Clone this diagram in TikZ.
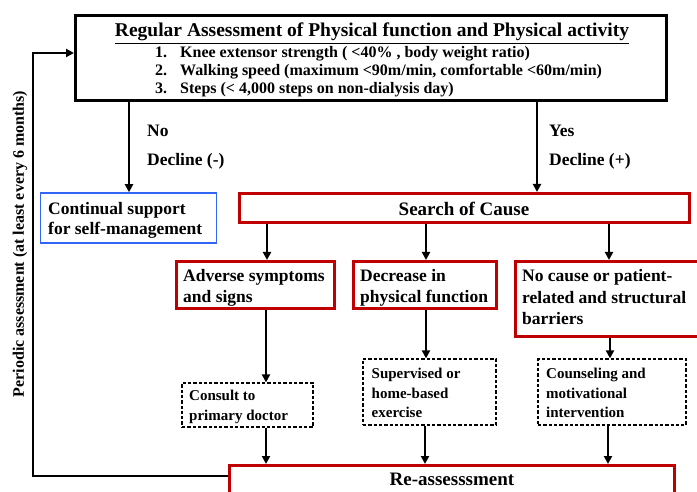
\documentclass[tikz,border=0pt]{standalone}
\usepackage{fontspec}
\setmainfont{Liberation Serif}
\usetikzlibrary{arrows.meta}
\definecolor{boxred}{RGB}{192,0,0}
\definecolor{boxblue}{RGB}{50,100,245}
\tikzset{
  redbox/.style={draw=boxred, line width=3pt, inner sep=0pt},
  bluebox/.style={draw=boxblue, line width=1.5pt, inner sep=0pt},
  blackbox/.style={draw=black, line width=3pt, inner sep=0pt},
  dashbox/.style={draw=black, line width=1.2pt, dash pattern=on 3.3pt off 2pt, inner sep=0pt},
  txt/.style={font=\bfseries\fontsize{17.5}{21}\selectfont, align=left, anchor=base west, inner sep=0pt},
  stxt/.style={font=\bfseries\fontsize{15}{19.8}\selectfont, align=left, anchor=base west, inner sep=0pt},
  big/.style={font=\bfseries\fontsize{19}{22}\selectfont, anchor=base, inner sep=0pt},
  arr/.style={line width=2pt, -{Triangle[length=8pt,width=8pt]}},
  lbl/.style={font=\bfseries\fontsize{17.5}{20}\selectfont, anchor=base west, inner sep=0pt}
}
\begin{document}
\begin{tikzpicture}[x=1pt,y=-1pt]
\useasboundingbox (0,0) rectangle (697,492);
% boxes (multi-line texts are placed by the baseline of their last line)
\node[blackbox, minimum width=591pt, minimum height=85pt] (top) at (371,58) {};
\node[font=\bfseries\fontsize{19.5}{22}\selectfont, inner sep=0pt, anchor=base] (title) at (372,37) {\underline{Regular Assessment of Physical function and Physical activity}};
\node[font=\bfseries\fontsize{16}{18}\selectfont, align=left, anchor=base west, inner sep=0pt] (items) at (155,94) {%
1.\hspace{13pt}Knee extensor strength ( <40\% , body weight ratio)\\
2.\hspace{13pt}Walking speed (maximum <90m/min, comfortable <60m/min)\\
3.\hspace{13pt}Steps (< 4,000 steps on non-dialysis day)};
\node[bluebox, minimum width=176pt, minimum height=50pt] (cont) at (128.5,218) {};
\node[txt, font=\bfseries\fontsize{17.5}{20}\selectfont] (conttxt) at (48,234.5) {Continual support\\for self-management};
\node[redbox, minimum width=450pt, minimum height=29pt] (search) at (464.5,208) {};
\node[big] (searchtxt) at (464,215.5) {Search of Cause};
\node[redbox, minimum width=158pt, minimum height=47pt] (adv) at (255.5,285) {};
\node[txt] (advtxt) at (183,302.5) {Adverse symptoms\\and signs};
\node[redbox, minimum width=143pt, minimum height=47pt] (dec) at (425,285) {};
\node[txt] (dectxt) at (360,302.5) {Decrease in\\physical function};
\node[redbox, minimum width=184pt, minimum height=75pt] (noc) at (607.5,299) {};
\node[txt, font=\bfseries\fontsize{17.5}{21.5}\selectfont] (noctxt) at (522,324.5) {No cause or patient-\\related and structural\\barriers};
\node[dashbox, minimum width=131pt, minimum height=44pt] (cons) at (247.5,405) {};
\node[stxt] (constxt) at (189,420.7) {Consult to\\primary doctor};
\node[dashbox, minimum width=133pt, minimum height=66pt] (sup) at (429.5,392) {};
\node[stxt] (suptxt) at (371.5,417.9) {Supervised or\\home-based\\exercise};
\node[dashbox, minimum width=148pt, minimum height=66pt] (coun) at (612,392) {};
\node[stxt] (countxt) at (546,417.9) {Counseling and\\motivational\\intervention};
\node[redbox, minimum width=445pt, minimum height=45pt] (re) at (452,488) {};
\node[big] (retxt) at (452,485) {Re-assesssment};
% labels
\node[lbl] (no) at (147,137) {No};
\node[lbl] (decm) at (147,166) {Decline (-)};
\node[lbl] (yes) at (549,137) {Yes};
\node[lbl] (decp) at (549,166) {Decline (+)};
\node[font=\bfseries\fontsize{16}{18}\selectfont, rotate=90, inner sep=0pt] (period) at (20,244) {Periodic assessment (at least every 6 months)};
% connectors
\coordinate (yx) at (537,0);
\draw[arr] (top.south -| 129,0) -- (cont.north -| 129,0);
\draw[arr] (top.south -| yx) -- (search.north -| yx);
\draw[arr] (search.south -| 267,0) -- (adv.north -| 267,0);
\draw[arr] (search.south -| 426,0) -- (dec.north -| 426,0);
\draw[arr] (search.south -| 609,0) -- (noc.north -| 609,0);
\draw[arr] (adv.south -| 266,0) -- (cons.north -| 266,0);
\draw[arr] (dec.south -| 426,0) -- (sup.north -| 426,0);
\draw[arr] (noc.south -| 610,0) -- (coun.north -| 610,0);
\draw[arr] (cons.south -| 266,0) -- (re.north -| 266,0);
\draw[arr] (sup.south -| 425,0) -- (re.north -| 425,0);
\draw[arr] (coun.south -| 608,0) -- (re.north -| 608,0);
\coordinate (fb1) at (33,476);
\coordinate (fb2) at (33,53);
\draw[line width=2pt, -{Triangle[length=8pt,width=8pt]}] (re.west |- fb1) -- (fb1) -- (fb2) -- (top.west |- fb2);
\end{tikzpicture}
\end{document}
